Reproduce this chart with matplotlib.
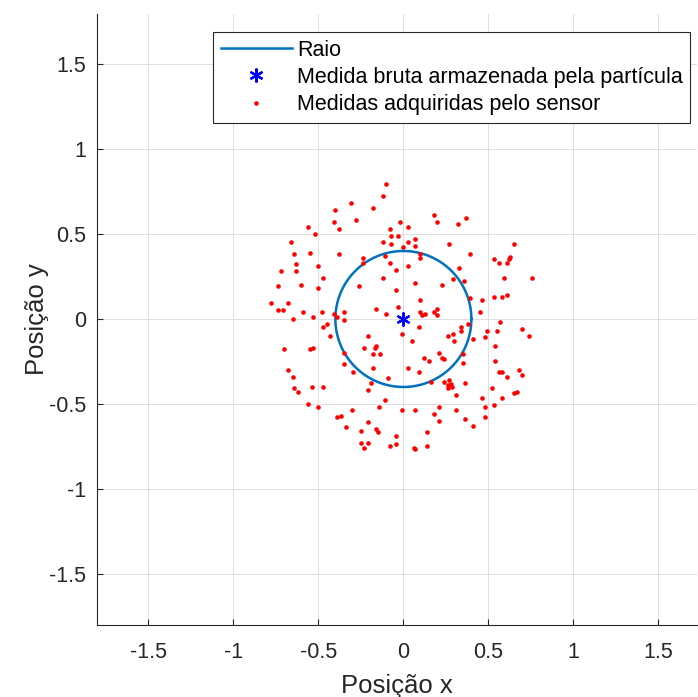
import numpy as np
import matplotlib
matplotlib.use("Agg")
import matplotlib.pyplot as plt

plt.rcParams['font.family'] = ['Liberation Sans', 'DejaVu Sans']

# Particle's stored raw measurement and the radius drawn around it
centro_x = [0.0]
centro_y = [0.0]
raio = 0.4

# Measurements acquired by the sensor
sensor_x = [
    -0.309, -0.400, -0.409, -0.561, -0.380, -0.519, -0.659, -0.641, -0.549, -0.380, -0.629, -0.500,
    -0.100, -0.119, -0.180, -0.278, 0.181, 0.200, -0.019, -0.080, 0.029, -0.071, -0.029, 0.071,
    -0.119, -0.071, 0.029, 0.071, 0.000, 0.271, -0.109, 0.100, 0.100, -0.239, -0.239, -0.080,
    0.029, -0.041,
    0.371, 0.320, 0.651, 0.391, 0.532, 0.561, 0.629, 0.620, 0.610, 0.325,
    -0.719, -0.629, -0.471, -0.739, -0.600, -0.500, -0.780, -0.680, -0.739, -0.709, -0.590, -0.480,
    -0.409, -0.351, -0.390, -0.529, -0.651, -0.351, -0.449, -0.471, -0.429, -0.700, -0.549, -0.529,
    -0.351, -0.351,
    -0.119, -0.259, -0.041, 0.071, 0.229, 0.291, 0.100, -0.029, -0.159, -0.100, 0.100, 0.129,
    0.110, 0.200, 0.181, 0.200, -0.009, 0.091, 0.049, -0.209, -0.229, -0.168, -0.159, -0.180,
    -0.139, 0.120, 0.149, 0.210, 0.229, 0.239, 0.261, 0.291, 0.300,
    0.591, 0.759, 0.359, 0.532, 0.581, 0.610, 0.391, 0.461, 0.451, 0.571, 0.381, 0.339,
    0.339, 0.491, 0.551, 0.700, 0.741, 0.481, 0.410, 0.541, 0.349, 0.541, 0.349,
    -0.680, -0.651, -0.641, -0.619, -0.539, -0.471, -0.561, -0.500, -0.300, -0.388, -0.368, -0.339,
    -0.298,
    -0.178, 0.029, 0.091, -0.190, -0.090, -0.209, -0.109, -0.141, -0.009, 0.071, 0.161,
    0.241, 0.271, 0.261, 0.281, 0.261, 0.288,
    0.210, 0.181, 0.210, -0.209, -0.249, -0.159, -0.149, -0.041, 0.141, -0.249, -0.209, -0.229,
    -0.080, -0.041, 0.061, 0.071, 0.141,
    0.561, 0.581, 0.679, 0.700, 0.610, 0.361, 0.520, 0.651, 0.671, 0.310, 0.461, 0.581,
    0.532, 0.481, 0.310, 0.361, 0.481, 0.410,
]
sensor_y = [
    0.681, 0.641, 0.572, 0.541, 0.531, 0.500, 0.451, 0.381, 0.390, 0.381, 0.322, 0.312,
    0.792, 0.722, 0.651, 0.582, 0.612, 0.571, 0.571, 0.531, 0.541, 0.490, 0.490, 0.471,
    0.451, 0.441, 0.451, 0.431, 0.422, 0.441, 0.371, 0.381, 0.361, 0.361, 0.331, 0.331,
    0.312, 0.288,
    0.592, 0.561, 0.441, 0.381, 0.351, 0.331, 0.363, 0.351, 0.331, 0.300,
    0.282, 0.282, 0.243, 0.192, 0.202, 0.182, 0.092, 0.092, 0.051, 0.051, 0.041, 0.041,
    0.031, 0.041, 0.012, 0.012, 0.002, -0.008, -0.027, -0.049, -0.098, -0.178, -0.178, -0.169,
    -0.198, -0.267,
    0.243, 0.192, 0.172, 0.212, 0.202, 0.234, 0.112, 0.072, 0.061, 0.031, 0.041, 0.031,
    0.022, 0.061, 0.041, 0.022, -0.088, -0.049, -0.128, -0.098, -0.169, -0.169, -0.159, -0.208,
    -0.208, -0.228, -0.247, -0.198, -0.228, -0.237, -0.098, -0.088, -0.128,
    0.243, 0.243, 0.222, 0.131, 0.131, 0.141, 0.122, 0.112, 0.041, -0.018, -0.027, -0.049,
    -0.069, -0.069, -0.069, -0.059, -0.098, -0.108, -0.118, -0.159, -0.208, -0.247, -0.257,
    -0.298, -0.339, -0.408, -0.428, -0.398, -0.398, -0.498, -0.518, -0.537, -0.578, -0.569, -0.637,
    -0.310,
    -0.290, -0.290, -0.310, -0.378, -0.349, -0.418, -0.478, -0.518, -0.537, -0.537, -0.369,
    -0.369, -0.361, -0.388, -0.381, -0.408, -0.400,
    -0.518, -0.557, -0.598, -0.608, -0.657, -0.647, -0.667, -0.686, -0.667, -0.727, -0.727, -0.757,
    -0.747, -0.737, -0.757, -0.767, -0.747,
    -0.310, -0.310, -0.300, -0.329, -0.339, -0.378, -0.408, -0.437, -0.428, -0.449, -0.467, -0.467,
    -0.508, -0.518, -0.537, -0.588, -0.578, -0.627,
]

tick_vals = [-1.5, -1, -0.5, 0, 0.5, 1, 1.5]
tick_labels = ['-1.5', '-1', '-0.5', '0', '0.5', '1', '1.5']

W, H = 698, 697
fig = plt.figure(figsize=(W / 100, H / 100), dpi=100)
ax = fig.add_axes([97 / W, (H - 625) / H, 600 / W, 611 / H])

azul = '#0072BD'
eixo = '#262626'

theta = np.linspace(0, 2 * np.pi, 400)
ax.plot(centro_x[0] + raio * np.cos(theta), centro_y[0] + raio * np.sin(theta),
        color=azul, lw=1.8, label='Raio', zorder=3)
# asterisk marker (6 spokes) for the stored measurement
ax.plot(centro_x, centro_y, linestyle='none', marker=(6, 2, 0), color='blue',
        markersize=10, mew=1.6, label='Medida bruta armazenada pela partícula', zorder=5)
ax.plot(sensor_x, sensor_y, linestyle='none', marker='o', color='red',
        markersize=3.3, mew=0, label='Medidas adquiridas pelo sensor', zorder=4)

ax.set_xlim(-1.802, 1.727)
ax.set_ylim(-1.800, 1.794)
ax.set_xticks(tick_vals)
ax.set_xticklabels(tick_labels)
ax.set_yticks(tick_vals)
ax.set_yticklabels(tick_labels)

ax.grid(True, color='#dedede', lw=0.7)
ax.set_axisbelow(True)
for s in ['top', 'right']:
    ax.spines[s].set_visible(False)
for s in ['left', 'bottom']:
    ax.spines[s].set_color(eixo)
    ax.spines[s].set_linewidth(0.8)
ax.tick_params(direction='in', length=4, width=0.8, color=eixo,
               labelcolor=eixo, labelsize=15.5)
ax.tick_params(axis='x', pad=12)
ax.tick_params(axis='y', pad=8)

ax.set_xlabel('Posição x', fontsize=18.5, color=eixo, labelpad=8)
ax.set_ylabel('Posição y', fontsize=18.5, color=eixo, labelpad=0)

handles, labels = ax.get_legend_handles_labels()
leg = ax.legend(handles, labels, loc='upper left',
                bbox_to_anchor=(213 / W, 1 - 32 / H), bbox_transform=fig.transFigure,
                borderaxespad=0, fontsize=15.5, fancybox=False, framealpha=1,
                edgecolor=eixo, handlelength=3.3, handletextpad=0.25,
                labelspacing=0.3, borderpad=0.35)
leg.get_frame().set_linewidth(0.8)
for t in leg.get_texts():
    t.set_color('black')

fig.savefig('out.png', dpi=100)
